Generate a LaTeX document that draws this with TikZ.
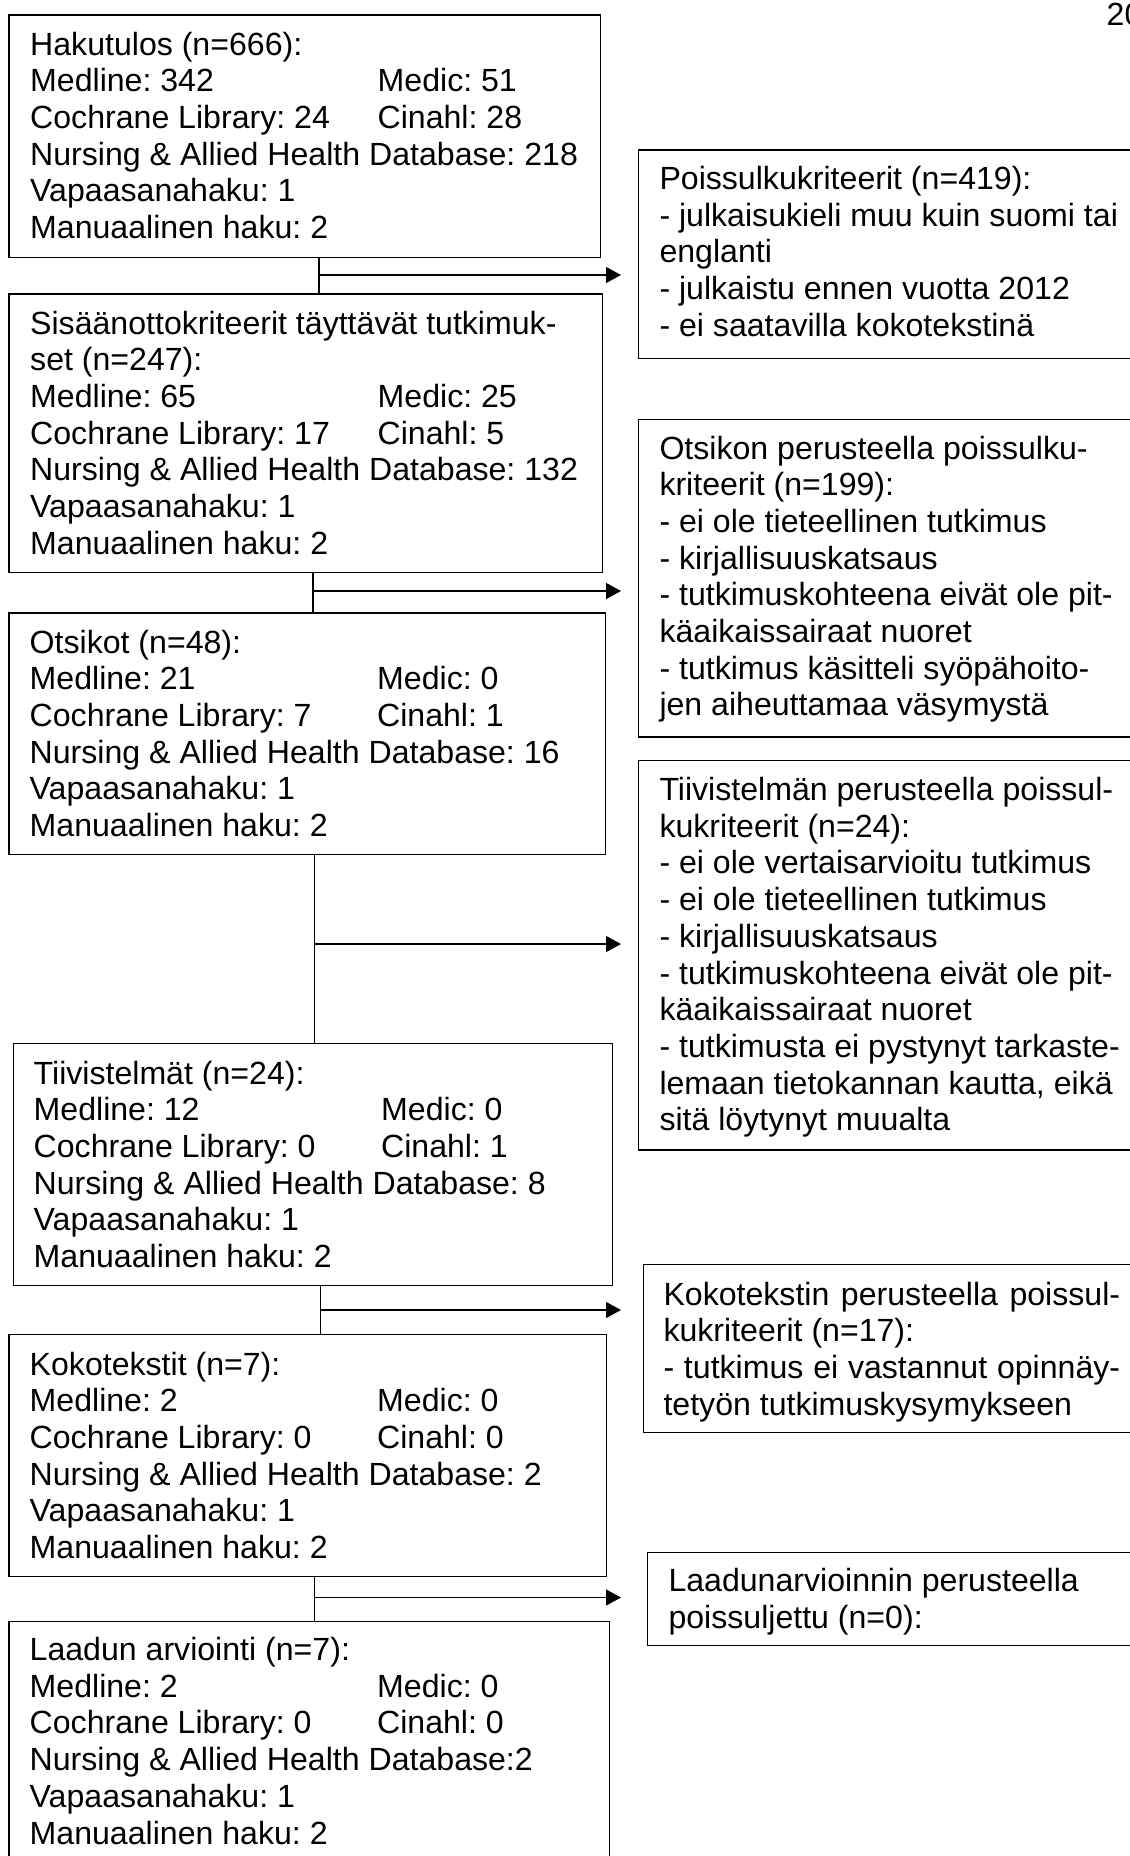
\documentclass[tikz,border=0pt]{standalone}
\usepackage{fontspec}
\setmainfont{Liberation Sans}
\usetikzlibrary{arrows.meta}
\frenchspacing
\newcommand{\boxtext}[1]{\vtop{\baselineskip=36.7pt\lineskiplimit=-100pt\halign{##\hfil\cr#1\crcr}}}
\newcommand{\tabcol}[1]{\makebox[347.5pt][l]{#1}}
\begin{document}
\begin{tikzpicture}[x=1pt,y=-1pt,
  box/.style={draw=black, line width=1.3pt, inner sep=0pt, anchor=north west},
  txt/.style={inner sep=0pt, anchor=base west, font=\fontsize{32.1}{36.7}\selectfont},
  conn/.style={draw=black, line width=1.3pt},
  arr/.style={draw=black, line width=1.3pt, -{Triangle[length=15pt,width=16pt]}}]
\useasboundingbox (0,0) rectangle (1130,1856);
\fill[white] (0,0) rectangle (1130,1856);

% page number
\node[inner sep=0pt, anchor=base west, font=\fontsize{32}{36}\selectfont] (pg) at (1106.5,25) {20};

% left column boxes
\node[box, minimum width=591.7pt, minimum height=242.4pt] (b1) at (8.3,14.3) {};
\node[box, minimum width=593.7pt, minimum height=278.7pt] (b2) at (8.3,293.3) {};
\node[box, minimum width=596.7pt, minimum height=241.5pt] (b3) at (8.3,612.3) {};
\node[box, minimum width=599.5pt, minimum height=242pt] (b4) at (12.5,1043) {};
\node[box, minimum width=597.6pt, minimum height=241.5pt] (b5) at (8.4,1334) {};
\node[box, minimum width=600.6pt, minimum height=300pt] (b6) at (8.4,1620.5) {};

\node[txt] (t1) at (30,55) {\boxtext{Hakutulos (n=666):\cr
\tabcol{Medline: 342}Medic: 51\cr
\tabcol{Cochrane Library: 24}Cinahl: 28\cr
Nursing \& Allied Health Database: 218\cr
Vapaasanahaku: 1\cr
Manuaalinen haku: 2}};

\node[txt] (t2) at (30,334) {\boxtext{Sisäänottokriteerit täyttävät tutkimuk-\cr
set (n=247):\cr
\tabcol{Medline: 65}Medic: 25\cr
\tabcol{Cochrane Library: 17}Cinahl: 5\cr
Nursing \& Allied Health Database: 132\cr
Vapaasanahaku: 1\cr
Manuaalinen haku: 2}};

\node[txt] (t3) at (29.5,653) {\boxtext{Otsikot (n=48):\cr
\tabcol{Medline: 21}Medic: 0\cr
\tabcol{Cochrane Library: 7}Cinahl: 1\cr
Nursing \& Allied Health Database: 16\cr
Vapaasanahaku: 1\cr
Manuaalinen haku: 2}};

\node[txt] (t4) at (33.5,1084) {\boxtext{Tiivistelmät (n=24):\cr
\tabcol{Medline: 12}Medic: 0\cr
\tabcol{Cochrane Library: 0}Cinahl: 1\cr
Nursing \& Allied Health Database: 8\cr
Vapaasanahaku: 1\cr
Manuaalinen haku: 2}};

\node[txt] (t5) at (29.5,1375) {\boxtext{Kokotekstit (n=7):\cr
\tabcol{Medline: 2}Medic: 0\cr
\tabcol{Cochrane Library: 0}Cinahl: 0\cr
Nursing \& Allied Health Database: 2\cr
Vapaasanahaku: 1\cr
Manuaalinen haku: 2}};

\node[txt] (t6) at (29.5,1660.5) {\boxtext{Laadun arviointi (n=7):\cr
\tabcol{Medline: 2}Medic: 0\cr
\tabcol{Cochrane Library: 0}Cinahl: 0\cr
Nursing \& Allied Health Database:2\cr
Vapaasanahaku: 1\cr
Manuaalinen haku: 2}};

% right column boxes
\node[box, minimum width=510pt, minimum height=208.2pt] (r1) at (637.5,149.3) {};
\node[box, minimum width=510pt, minimum height=317.8pt] (r2) at (638,418.5) {};
\node[box, minimum width=510pt, minimum height=389.3pt] (r3) at (638,760) {};
\node[box, minimum width=510pt, minimum height=168.5pt] (r4) at (642.5,1263.5) {};
\node[box, minimum width=510pt, minimum height=93.3pt] (r5) at (646.5,1551.7) {};

\node[txt] (s1) at (659.3,189.5) {\boxtext{Poissulkukriteerit (n=419):\cr
- julkaisukieli muu kuin suomi tai\cr
englanti\cr
- julkaistu ennen vuotta 2012\cr
- ei saatavilla kokotekstinä}};

\node[txt] (s2) at (659.3,459) {\boxtext{Otsikon perusteella poissulku-\cr
kriteerit (n=199):\cr
- ei ole tieteellinen tutkimus\cr
- kirjallisuuskatsaus\cr
- tutkimuskohteena eivät ole pit-\cr
käaikaissairaat nuoret\cr
- tutkimus käsitteli syöpähoito-\cr
jen aiheuttamaa väsymystä}};

\node[txt] (s3) at (659.3,800.5) {\boxtext{Tiivistelmän perusteella poissul-\cr
kukriteerit (n=24):\cr
- ei ole vertaisarvioitu tutkimus\cr
- ei ole tieteellinen tutkimus\cr
- kirjallisuuskatsaus\cr
- tutkimuskohteena eivät ole pit-\cr
käaikaissairaat nuoret\cr
- tutkimusta ei pystynyt tarkaste-\cr
lemaan tietokannan kautta, eikä\cr
sitä löytynyt muualta}};

\node[txt] (s4) at (663.3,1305) {\boxtext{\makebox[456.7pt][s]{Kokotekstin perusteella poissul-}\cr
kukriteerit (n=17):\cr
\makebox[456.7pt][s]{- tutkimus ei vastannut opinnäy-}\cr
tetyön tutkimuskysymykseen}};

\node[txt] (s5) at (668.3,1591.7) {\boxtext{Laadunarvioinnin perusteella\cr
poissuljettu (n=0):}};

% connectors
\coordinate (j1) at (319,275);   \coordinate (e1) at (621,275);
\coordinate (j2) at (313,591);   \coordinate (e2) at (621,591);
\coordinate (j3) at (314.2,944); \coordinate (e3) at (621,944);
\coordinate (j4) at (320.5,1310); \coordinate (e4) at (621,1310);
\coordinate (j5) at (314.6,1597.5); \coordinate (e5) at (621,1597.5);

\draw[conn] (b1.south -| j1) -- (b2.north -| j1);
\draw[arr] (j1) -- (e1);
\draw[conn] (b2.south -| j2) -- (b3.north -| j2);
\draw[arr] (j2) -- (e2);
\draw[conn] (b3.south -| j3) -- (b4.north -| j3);
\draw[arr] (j3) -- (e3);
\draw[conn] (b4.south -| j4) -- (b5.north -| j4);
\draw[arr] (j4) -- (e4);
\draw[conn] (b5.south -| j5) -- (b6.north -| j5);
\draw[arr] (j5) -- (e5);
\end{tikzpicture}
\end{document}
